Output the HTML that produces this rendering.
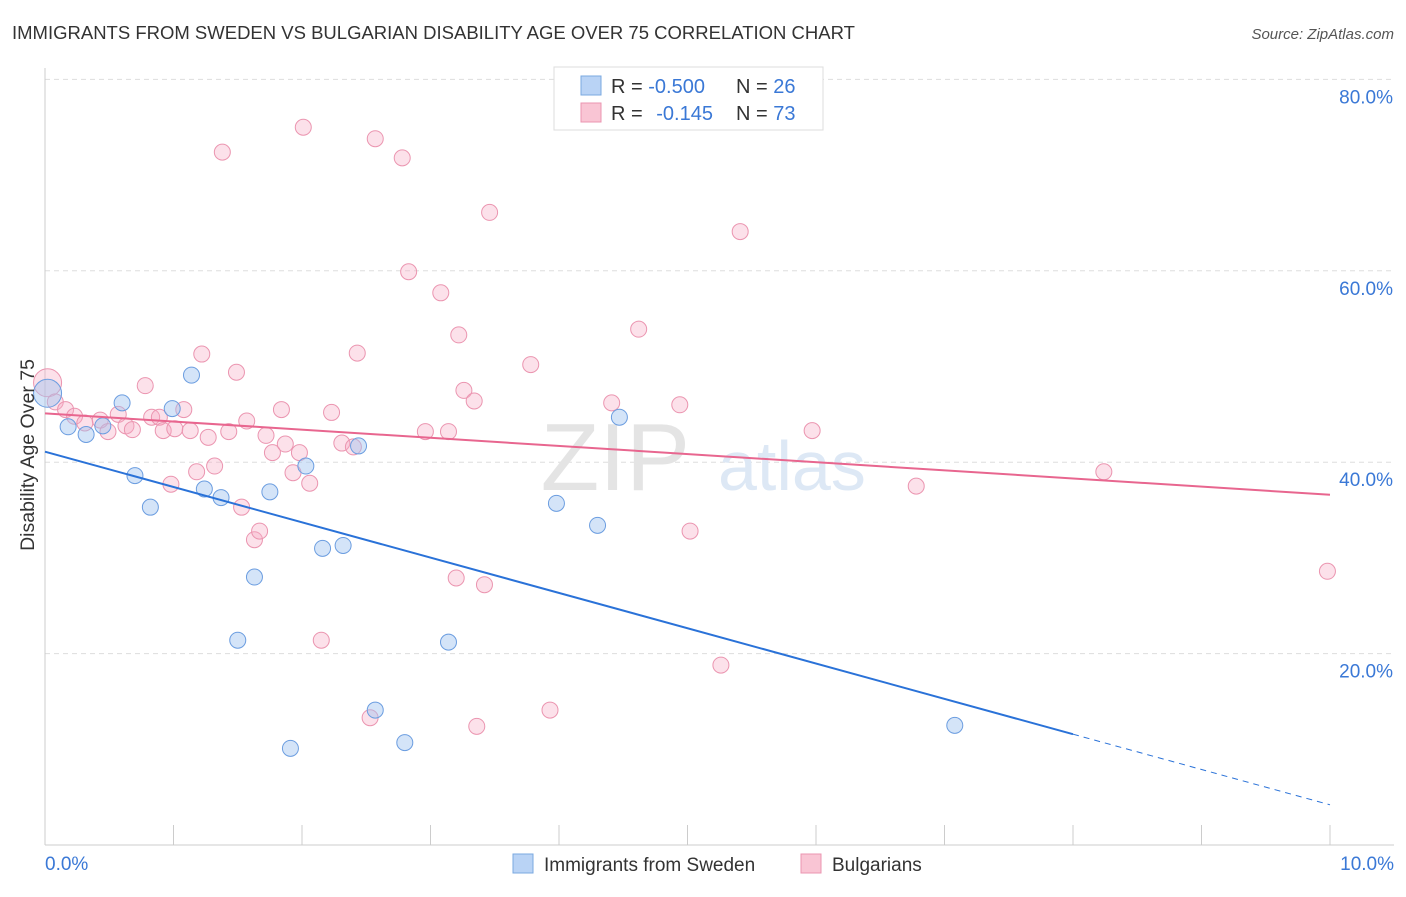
<!DOCTYPE html>
<html><head><meta charset="utf-8">
<style>
body{margin:0;background:#fff;font-family:"Liberation Sans",sans-serif;}
svg text{font-family:"Liberation Sans",sans-serif;}
</style></head>
<body>
<svg id="chart" width="1406" height="892" viewBox="0 0 1406 892" xmlns="http://www.w3.org/2000/svg">
<text x="12" y="39" font-size="18.5" fill="#333">IMMIGRANTS FROM SWEDEN VS BULGARIAN DISABILITY AGE OVER 75 CORRELATION CHART</text>
<text x="1394" y="39" font-size="15" fill="#555" font-style="italic" text-anchor="end">Source: ZipAtlas.com</text>
<g id="grid"></g>
<g id="axes"></g>
<text x="690" y="490" font-size="96" fill="#e4e4e4" font-family="Liberation Serif" text-anchor="end">ZIP</text>
<text x="718" y="490" font-size="70" fill="#dde8f5">atlas</text>
<g id="pts"></g>
<g id="trends"></g>
<text transform="translate(34,455) rotate(-90)" font-size="19.5" fill="#333" text-anchor="middle">Disability Age Over 75</text>
<g>
<rect x="554" y="67" width="269" height="63" fill="#fff" stroke="#ddd"/>
<rect x="581" y="76" width="20" height="19" fill="#b9d3f5" stroke="#7aa8e0"/>
<rect x="581" y="103" width="20" height="19" fill="#f9c5d4" stroke="#eb95b0"/>
<text x="611" y="93" font-size="20" fill="#333">R = <tspan fill="#3a78d6">-0.500</tspan></text>
<text x="736" y="93" font-size="20" fill="#333">N = <tspan fill="#3a78d6">26</tspan></text>
<text x="611" y="120" font-size="20" fill="#333">R = <tspan fill="#3a78d6" dx="8">-0.145</tspan></text>
<text x="736" y="120" font-size="20" fill="#333">N = <tspan fill="#3a78d6">73</tspan></text>
</g>
<g>
<rect x="513" y="854" width="20" height="19" fill="#b9d3f5" stroke="#7aa8e0"/>
<text x="544" y="871" font-size="19" fill="#333">Immigrants from Sweden</text>
<rect x="801" y="854" width="20" height="19" fill="#f9c5d4" stroke="#eb95b0"/>
<text x="832" y="871" font-size="19" fill="#333">Bulgarians</text>
</g>
</svg>
<script>
const yTicks=[20,40,60,80];
const yTickLabels=["20.0%","40.0%","60.0%","80.0%"];
const xTicks=[0,1,2,3,4,5,6,7,8,9,10];
const xEndLabels=["0.0%","10.0%"];
const swedenX=[0.02,0.18,0.32,0.45,0.6,0.7,0.82,0.99,1.14,1.24,1.37,1.5,1.63,1.75,1.91,2.03,2.16,2.32,2.44,2.57,2.8,3.14,3.98,4.3,4.47,7.08];
const swedenY=[47.2,43.7,42.9,43.8,46.2,38.6,35.3,45.6,49.1,37.2,36.3,21.4,28.0,36.9,10.1,39.6,31.0,31.3,41.7,14.1,10.7,21.2,35.7,33.4,44.7,12.5];
const bulgX=[0.02,0.08,0.16,0.23,0.31,0.43,0.49,0.57,0.63,0.68,0.78,0.83,0.89,0.92,1.01,1.08,1.13,1.18,0.98,1.22,1.27,1.32,1.38,1.43,1.49,1.53,1.57,1.63,1.67,1.72,1.77,1.84,1.87,1.93,1.98,2.06,2.01,2.15,2.23,2.31,2.40,2.43,2.53,2.57,2.78,2.83,2.96,3.08,3.14,3.20,3.22,3.26,3.34,3.42,3.36,3.46,3.78,3.93,4.41,4.62,4.94,5.02,5.26,5.41,5.97,6.78,8.24,9.98];
const bulgY=[48.3,46.3,45.5,44.8,44.1,44.4,43.2,45.0,43.8,43.4,48.0,44.7,44.7,43.3,43.5,45.5,43.3,39.0,37.7,51.3,42.6,39.6,72.4,43.2,49.4,35.3,44.3,31.9,32.8,42.8,41.0,45.5,41.9,38.9,41.0,37.8,75.0,21.4,45.2,42.0,41.6,51.4,13.3,73.8,71.8,59.9,43.2,57.7,43.2,27.9,53.3,47.5,46.4,27.2,12.4,66.1,50.2,14.1,46.2,53.9,46.0,32.8,18.8,64.1,43.3,37.5,39.0,28.6];
const swedenTrend=[41.1,4.2];
const bulgTrend=[45.1,36.6];
const swedenSolidEnd=8.0;

const X0=45,X1=1330,Y0=845,PPY=9.57;
const xs=v=>X0+(X1-X0)*v/10;
const ys=v=>Y0-v*PPY;
const NS="http://www.w3.org/2000/svg";
function mk(tag,attrs,parent){const e=document.createElementNS(NS,tag);for(const k in attrs)e.setAttribute(k,attrs[k]);parent.appendChild(e);return e;}
const grid=document.getElementById('grid'),axes=document.getElementById('axes'),pts=document.getElementById('pts'),tr=document.getElementById('trends');
yTicks.forEach((t,i)=>{
 const l=mk('line',{x1:X0,x2:1394,y1:ys(t),y2:ys(t),stroke:'#ddd','stroke-dasharray':'5,4'},grid);
 
 
 const tx=mk('text',{x:1393,y:ys(t)+24,'font-size':19,fill:'#3a78d6','text-anchor':'end'},axes);
 tx.textContent=yTickLabels[i];
 
 
});
const ya=mk('line',{x1:X0,x2:X0,y1:68,y2:Y0,stroke:'#ccc'},axes);


const xa=mk('line',{x1:X0,x2:1394,y1:Y0,y2:Y0,stroke:'#ccc'},axes);


xTicks.forEach(t=>{
 const l=mk('line',{x1:xs(t),x2:xs(t),y1:Y0-20,y2:Y0,stroke:'#ccc'},axes);
 
 
});
[[0,'start',45],[10,'end',1394]].forEach((d,i)=>{
 const tx=mk('text',{x:d[2],y:870,'font-size':19,fill:'#3a78d6','text-anchor':d[1]},axes);
 tx.textContent=xEndLabels[i];
 
 
});
bulgX.forEach((x,i)=>{
 const c=mk('circle',{cx:xs(x),cy:ys(bulgY[i]),r:i===0?14:8,fill:'rgba(245,170,195,0.35)',stroke:'#eb95b0','stroke-width':1},pts);
 
 
});
swedenX.forEach((x,i)=>{
 const c=mk('circle',{cx:xs(x),cy:ys(swedenY[i]),r:i===0?14:8,fill:'rgba(160,195,240,0.45)',stroke:'#6b9de0','stroke-width':1},pts);
 
 
});
const sy=x=>swedenTrend[0]+(swedenTrend[1]-swedenTrend[0])*x/10;
const t1=mk('line',{x1:xs(0),y1:ys(sy(0)),x2:xs(swedenSolidEnd),y2:ys(sy(swedenSolidEnd)),stroke:'#2a72d8','stroke-width':2},tr);


const t2=mk('line',{x1:xs(swedenSolidEnd),y1:ys(sy(swedenSolidEnd)),x2:xs(10),y2:ys(sy(10)),stroke:'#2a72d8','stroke-width':1,'stroke-dasharray':'6,5'},tr);


const t3=mk('line',{x1:xs(0),y1:ys(bulgTrend[0]),x2:xs(10),y2:ys(bulgTrend[1]),stroke:'#e8668f','stroke-width':2},tr);


</script>
</body></html>
